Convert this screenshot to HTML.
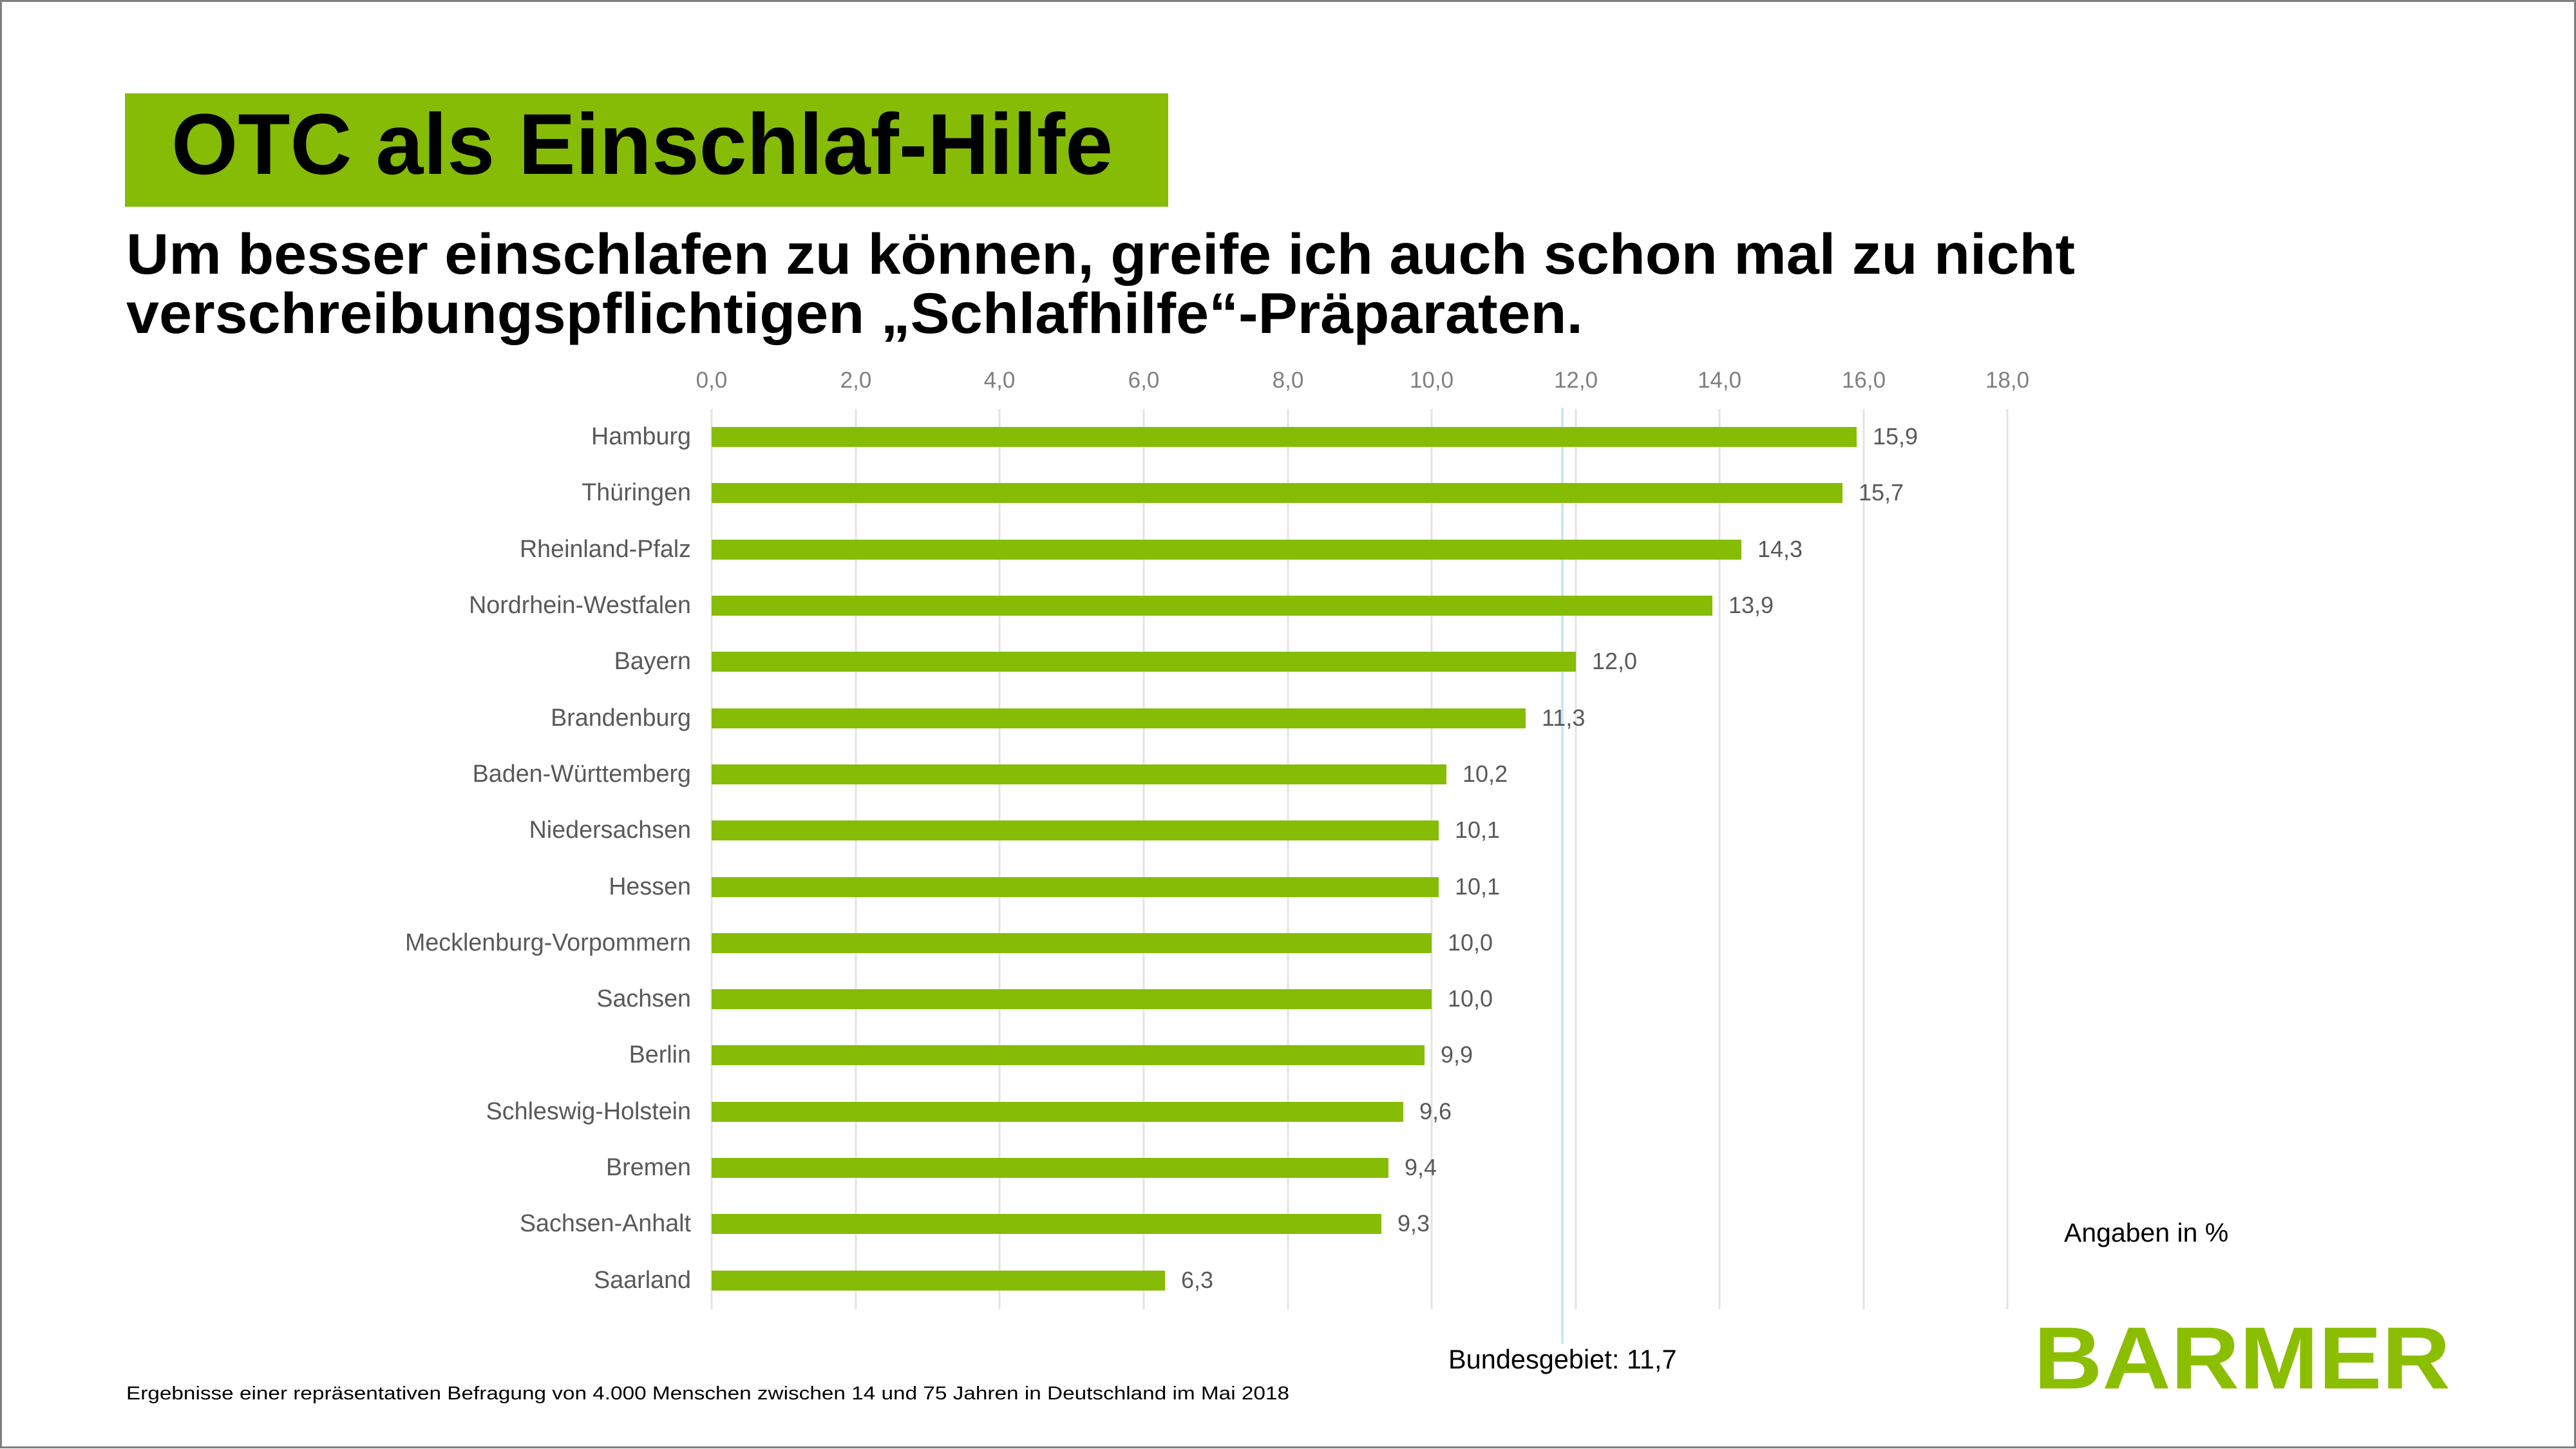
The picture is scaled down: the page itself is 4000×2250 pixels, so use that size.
<!DOCTYPE html>
<html><head><meta charset="utf-8"><style>
html,body{margin:0;padding:0;background:#fff}
svg{display:block}
</style></head><body>
<svg width="4000" height="2250" viewBox="0 0 4000 2250" xmlns="http://www.w3.org/2000/svg" font-family="Liberation Sans, Arial, sans-serif">
<rect x="1.5" y="1.5" width="3997" height="2246" fill="#fff" stroke="#7f7f7f" stroke-width="3"/>
<rect x="194" y="145" width="1620" height="176" fill="#86bc06"/>
<text x="266" y="270" font-size="134" font-weight="bold" fill="#000" textLength="1462" lengthAdjust="spacingAndGlyphs">OTC als Einschlaf-Hilfe</text>
<text x="196" y="425" font-size="89" font-weight="bold" fill="#000" textLength="3026" lengthAdjust="spacingAndGlyphs">Um besser einschlafen zu können, greife ich auch schon mal zu nicht</text>
<text x="196" y="517" font-size="89" font-weight="bold" fill="#000" textLength="2262" lengthAdjust="spacingAndGlyphs">verschreibungspflichtigen „Schlafhilfe“-Präparaten.</text>
<g stroke="#e3e3e3" stroke-width="3">
<line x1="1105" y1="635" x2="1105" y2="2033"/><line x1="1329" y1="635" x2="1329" y2="2033"/><line x1="1552" y1="635" x2="1552" y2="2033"/><line x1="1776" y1="635" x2="1776" y2="2033"/><line x1="2000" y1="635" x2="2000" y2="2033"/><line x1="2223" y1="635" x2="2223" y2="2033"/><line x1="2447" y1="635" x2="2447" y2="2033"/><line x1="2670" y1="635" x2="2670" y2="2033"/><line x1="2894" y1="635" x2="2894" y2="2033"/><line x1="3117" y1="635" x2="3117" y2="2033"/>
</g>
<g font-size="35" fill="#7f7f7f" text-anchor="middle">
<text x="1105" y="602">0,0</text><text x="1329" y="602">2,0</text><text x="1552" y="602">4,0</text><text x="1776" y="602">6,0</text><text x="2000" y="602">8,0</text><text x="2223" y="602">10,0</text><text x="2447" y="602">12,0</text><text x="2670" y="602">14,0</text><text x="2894" y="602">16,0</text><text x="3117" y="602">18,0</text>
</g>
<line x1="2426" y1="633" x2="2426" y2="2087" stroke="#c2eaf7" stroke-width="4"/>
<g fill="#86bc06">
<rect x="1105" y="663" width="1778" height="31"/>
<rect x="1105" y="750" width="1756" height="31"/>
<rect x="1105" y="838" width="1599" height="31"/>
<rect x="1105" y="925" width="1554" height="31"/>
<rect x="1105" y="1012" width="1342" height="31"/>
<rect x="1105" y="1100" width="1264" height="31"/>
<rect x="1105" y="1187" width="1141" height="31"/>
<rect x="1105" y="1274" width="1129" height="31"/>
<rect x="1105" y="1362" width="1129" height="31"/>
<rect x="1105" y="1449" width="1118" height="31"/>
<rect x="1105" y="1536" width="1118" height="31"/>
<rect x="1105" y="1623" width="1107" height="31"/>
<rect x="1105" y="1711" width="1074" height="31"/>
<rect x="1105" y="1798" width="1051" height="31"/>
<rect x="1105" y="1885" width="1040" height="31"/>
<rect x="1105" y="1973" width="704" height="31"/>
</g>
<g font-size="37.7" fill="#595959" text-anchor="end">
<text x="1073" y="690">Hamburg</text>
<text x="1073" y="777">Thüringen</text>
<text x="1073" y="865">Rheinland-Pfalz</text>
<text x="1073" y="952">Nordrhein-Westfalen</text>
<text x="1073" y="1039">Bayern</text>
<text x="1073" y="1127">Brandenburg</text>
<text x="1073" y="1214">Baden-Württemberg</text>
<text x="1073" y="1301">Niedersachsen</text>
<text x="1073" y="1389">Hessen</text>
<text x="1073" y="1476">Mecklenburg-Vorpommern</text>
<text x="1073" y="1563">Sachsen</text>
<text x="1073" y="1650">Berlin</text>
<text x="1073" y="1738">Schleswig-Holstein</text>
<text x="1073" y="1825">Bremen</text>
<text x="1073" y="1912">Sachsen-Anhalt</text>
<text x="1073" y="2000">Saarland</text>
</g>
<g font-size="36" fill="#595959">
<text x="2908" y="690">15,9</text>
<text x="2886" y="777">15,7</text>
<text x="2729" y="865">14,3</text>
<text x="2684" y="952">13,9</text>
<text x="2472" y="1039">12,0</text>
<text x="2394" y="1127">11,3</text>
<text x="2271" y="1214">10,2</text>
<text x="2259" y="1301">10,1</text>
<text x="2259" y="1389">10,1</text>
<text x="2248" y="1476">10,0</text>
<text x="2248" y="1563">10,0</text>
<text x="2237" y="1650">9,9</text>
<text x="2204" y="1738">9,6</text>
<text x="2181" y="1825">9,4</text>
<text x="2170" y="1912">9,3</text>
<text x="1834" y="2000">6,3</text>
</g>
<text x="3205" y="1928" font-size="41" fill="#000">Angaben in %</text>
<text x="2249" y="2125" font-size="41.5" fill="#000">Bundesgebiet: 11,7</text>
<text x="196" y="2173" font-size="29" fill="#000" textLength="1806" lengthAdjust="spacingAndGlyphs">Ergebnisse einer repräsentativen Befragung von 4.000 Menschen zwischen 14 und 75 Jahren in Deutschland im Mai 2018</text>
<text x="3158" y="2156" font-size="137" font-weight="bold" fill="#8cbe00" textLength="647" lengthAdjust="spacingAndGlyphs">BARMER</text>
</svg>
</body></html>
